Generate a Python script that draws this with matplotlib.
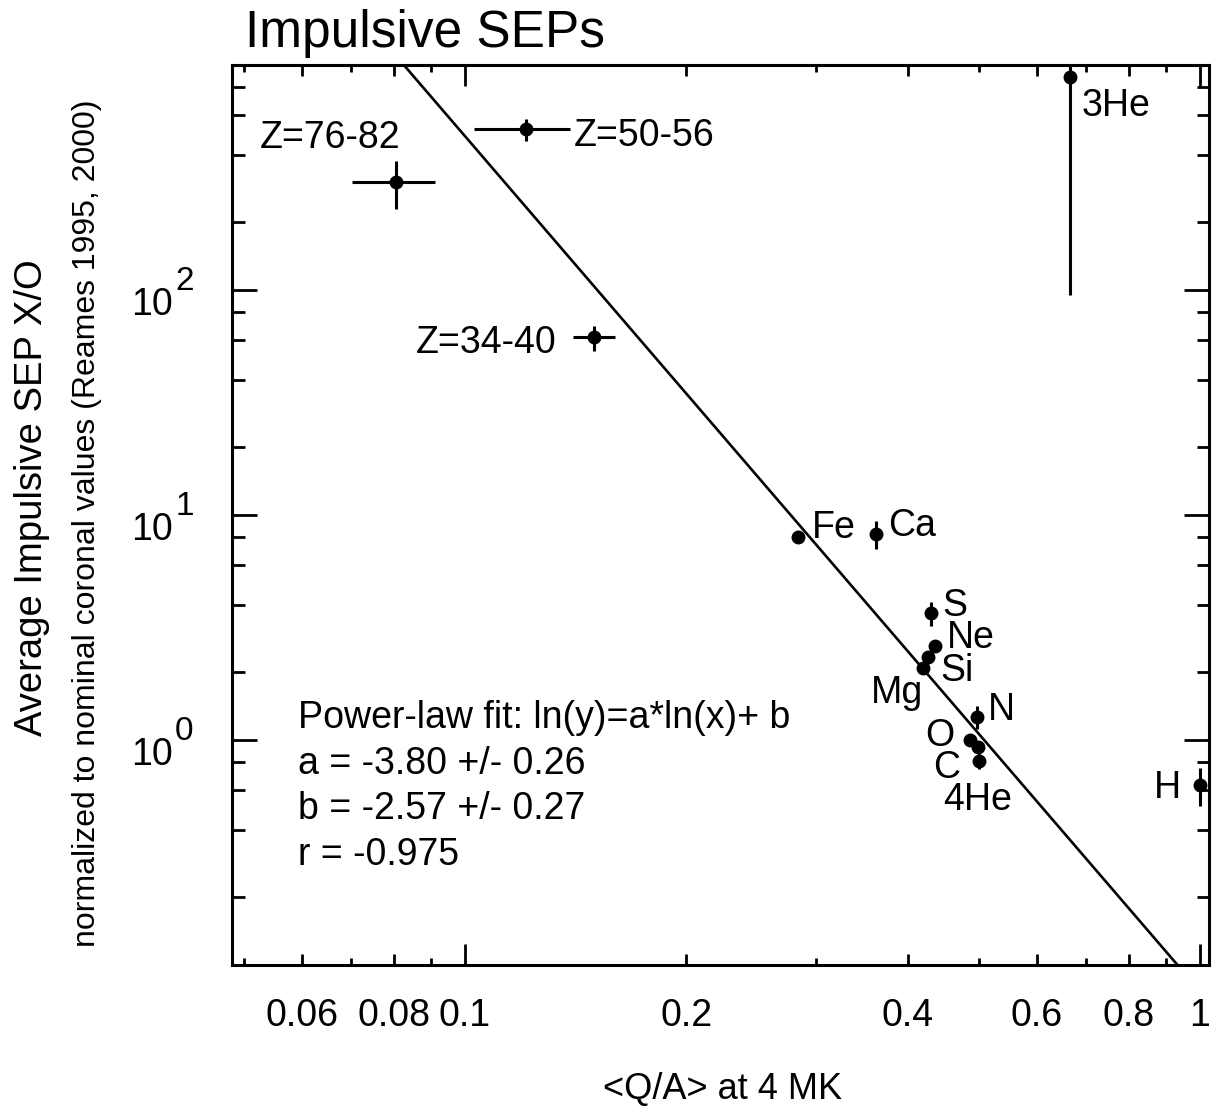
import numpy as np
import matplotlib
matplotlib.use("Agg")
import matplotlib.pyplot as plt
import matplotlib.transforms as mtransforms
from matplotlib.ticker import FixedLocator, FixedFormatter, NullFormatter

plt.rcParams['font.family'] = ['Liberation Sans', 'DejaVu Sans']

# --- data ---
species = ["H", "4He", "3He", "C", "N", "O", "Ne", "Mg", "Si", "S", "Ca", "Fe",
           "Z=34-40", "Z=50-56", "Z=76-82"]
q_over_a = [1.0, 0.501, 0.665, 0.499, 0.497, 0.486, 0.436, 0.4195, 0.427, 0.430,
            0.362, 0.284, 0.150, 0.121, 0.0806]
q_over_a_err = [0, 0, 0, 0, 0, 0, 0, 0, 0, 0, 0, 0, 0.0098, 0.018, 0.0104]
xo_ratio = [0.631, 0.809, 885, 0.928, 1.27, 1.0, 2.62, 2.08, 2.33, 3.66,
            8.23, 7.96, 61.6, 518, 302]
xo_err = [0.12, 0.064, 790, 0.03, 0.15, 0.03, 0.08, 0.06, 0.08, 0.46,
          1.2, 0.2, 7.9, 59, 74]

# power-law fit ln(y) = a*ln(x) + b
fit_a, fit_b = -3.80, -2.57
fit_text = ["Power-law fit: ln(y)=a*ln(x)+ b",
            "a = -3.80 +/- 0.26",
            "b = -2.57 +/- 0.27",
            "r = -0.975"]

xticks_major = [0.06, 0.08, 0.1, 0.2, 0.4, 0.6, 0.8, 1.0]
xtick_labels = ["0.06", "0.08", "0.1", "0.2", "0.4", "0.6", "0.8", "1"]
xticks_minor = [0.05, 0.07, 0.09, 0.3, 0.5, 0.7, 0.9]
yticks_major = [1, 10, 100]
ytick_exps = ["0", "1", "2"]
yticks_minor = [m * 10.0**e for e in (-1, 0, 1, 2) for m in (2, 4, 6, 8)]

# label offsets (pixels) from each point, and alignment
label_pos = {
    "H": (-19, -13, "right"), "4He": (-36, -49, "left"), "3He": (12, -39, "left"),
    "C": (-18, -31, "right"), "N": (11, -3, "left"), "O": (-15, -6, "right"),
    "Ne": (12, -2, "left"), "Mg": (0, -35, "right"), "Si": (12, -24, "left"),
    "S": (12, -3, "left"), "Ca": (12, -2, "left"), "Fe": (14, -1, "left"),
    "Z=34-40": (-38, -16, "right"), "Z=50-56": (48, -17, "left"),
    "Z=76-82": (-136, 34, "left"),
}

W, H = 1212, 1109
fig = plt.figure(figsize=(W / 100, H / 100), dpi=100)
ax = fig.add_axes([232 / W, 1 - 965 / H, (1209 - 232) / W, (965 - 65) / H])


def fxy(px, py):
    return px / W, 1 - py / H


ax.errorbar(q_over_a, xo_ratio, yerr=xo_err, xerr=q_over_a_err, fmt='o',
            color='black', ms=9, elinewidth=2.2, capsize=0)

xs = np.geomspace(0.04, 1.2, 200)
ax.plot(xs, np.exp(fit_a * np.log(xs) + fit_b), color='black', lw=1.9)

for name, x, y in zip(species, q_over_a, xo_ratio):
    dx, dy, ha = label_pos[name]
    ax.annotate(name, (x, y), xytext=(dx, dy), textcoords='offset pixels',
                ha=ha, va='baseline', fontsize=27)

ax.set_xscale('log')
ax.set_yscale('log')
ax.set_xlim(0.0482, 1.0286)
ax.set_ylim(0.1, 1000)

ax.xaxis.set_major_locator(FixedLocator(xticks_major))
ax.xaxis.set_major_formatter(FixedFormatter(xtick_labels))
ax.xaxis.set_minor_locator(FixedLocator(xticks_minor))
ax.xaxis.set_minor_formatter(NullFormatter())
ax.yaxis.set_major_locator(FixedLocator(yticks_major))
ax.yaxis.set_major_formatter(NullFormatter())
ax.yaxis.set_minor_locator(FixedLocator(yticks_minor))
ax.yaxis.set_minor_formatter(NullFormatter())

ax.tick_params(which='both', direction='in', top=True, right=True, width=2,
               labelsize=27, color='black')
ax.tick_params(axis='x', which='major', length=7.9, pad=23.8)
ax.tick_params(axis='x', which='minor', length=4.7)
ax.tick_params(axis='y', which='major', length=18)
ax.tick_params(axis='y', which='minor', length=9)
for sp in ax.spines.values():
    sp.set_linewidth(2.2)

# decade ticks on x are drawn longer
for tick, loc in zip(ax.xaxis.get_major_ticks(), ax.xaxis.get_majorticklocs()):
    if np.isclose(loc, 0.1) or np.isclose(loc, 1.0):
        tick.tick1line.set_markersize(15)
        tick.tick2line.set_markersize(15)

# y tick labels as 10 with a raised exponent
ytrans = mtransforms.blended_transform_factory(ax.transAxes, ax.transData)
for val, e in zip(yticks_major, ytick_exps):
    ax.annotate("10", (0, val), xycoords=ytrans, xytext=(-59, -25),
                textcoords='offset pixels', ha='right', va='baseline', fontsize=27)
    ax.annotate(e, (0, val), xycoords=ytrans, xytext=(-57, 0),
                textcoords='offset pixels', ha='left', va='baseline', fontsize=24)

for i, line in enumerate(fit_text):
    fig.text(*fxy(298, 728 + 45.7 * i), line, fontsize=27, va='baseline', ha='left')

fig.text(*fxy(245, 47), "Impulsive SEPs", fontsize=37, va='baseline', ha='left')
fig.text(*fxy(723, 1099), "<Q/A> at 4 MK", fontsize=26, va='baseline', ha='center')
fig.text(*fxy(32, 498), "Average Impulsive SEP X/O", fontsize=27.5, rotation=90,
         ha='center', va='center')
fig.text(*fxy(87, 523), "normalized to nominal coronal values (Reames 1995, 2000)",
         fontsize=23, rotation=90, ha='center', va='center')

fig.savefig("out.png", dpi=100)
